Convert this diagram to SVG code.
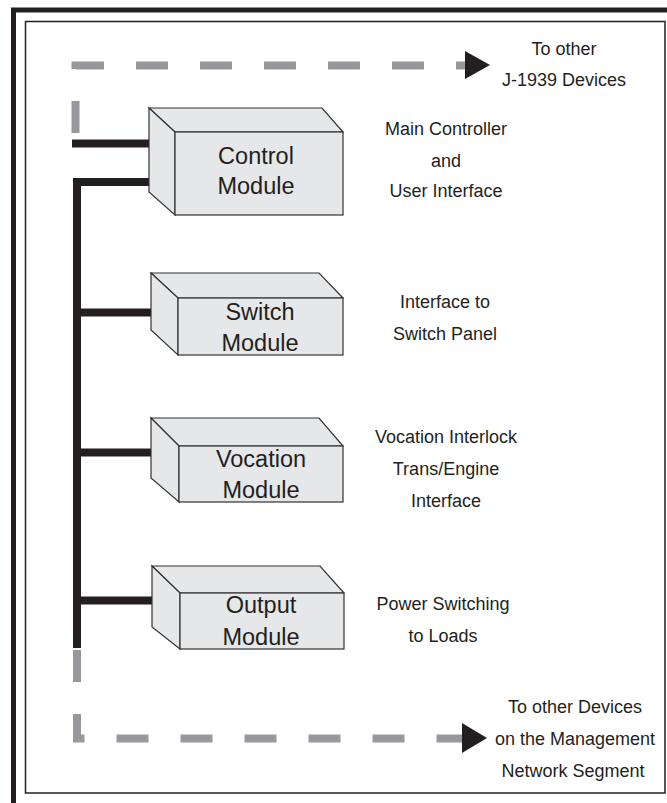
<svg xmlns="http://www.w3.org/2000/svg" width="667" height="803" viewBox="0 0 667 803">
  <style>
    .frame-outer { fill: none; stroke: #231f20; stroke-width: 5; }
    .frame-inner { fill: none; stroke: #231f20; stroke-width: 1.5; }
    .bus { fill: none; stroke: #231f20; stroke-width: 8; stroke-linejoin: miter; stroke-linecap: butt; }
    .net { fill: none; stroke: #97989b; stroke-width: 8; stroke-dasharray: 32 32; stroke-linejoin: miter; stroke-linecap: butt; }
    .arrow { fill: #231f20; }
    .face { fill: #e6e7e8; stroke: #333333; stroke-width: 1.2; stroke-linejoin: miter; }
    .box-label { font-family: "Liberation Sans", Arial, sans-serif; font-size: 23.5px; fill: #231f20; text-anchor: middle; }
    .note { font-family: "Liberation Sans", Arial, sans-serif; font-size: 18px; fill: #231f20; text-anchor: middle; }
  </style>

  <!-- page frame -->
  <rect class="frame-outer" x="13.5" y="10" width="700" height="850"/>
  <rect class="frame-inner" x="25.5" y="21.5" width="639.5" height="771.5"/>

  <!-- connectors -->
  <g id="connectors">
    <!-- J-1939 network (dashed) -->
    <path class="net" d="M75.5 133 V65.5 H466"/>
    <polygon class="arrow" points="465,51 490,65 465,79"/>
    <!-- management network (dashed) -->
    <path class="net" d="M77 650 V738.5 H463"/>
    <polygon class="arrow" points="462,723 487,738 462,753"/>
    <!-- control module J-1939 stub -->
    <path class="bus" d="M72 143.5 H150"/>
    <!-- management bus -->
    <path class="bus" d="M150 182 H77 V648"/>
    <path class="bus" d="M77 312.5 H152"/>
    <path class="bus" d="M77 452.5 H152"/>
    <path class="bus" d="M77 600.5 H153"/>
  </g>

  <!-- Control Module -->
  <g id="control-module">
    <polygon class="face" points="149,108 322,108 343,132 175,132"/>
    <polygon class="face" points="149,108 175,132 175,215 149,192"/>
    <rect class="face" x="175" y="132" width="168" height="83"/>
    <text class="box-label" x="256" y="164">Control</text>
    <text class="box-label" x="256" y="194">Module</text>
  </g>

  <!-- Switch Module -->
  <g id="switch-module">
    <polygon class="face" points="151,273 319,273 343,298 178,298"/>
    <polygon class="face" points="151,273 178,298 178,355 151,330"/>
    <rect class="face" x="178" y="298" width="165" height="57"/>
    <text class="box-label" x="260" y="320">Switch</text>
    <text class="box-label" x="260" y="351">Module</text>
  </g>

  <!-- Vocation Module -->
  <g id="vocation-module">
    <polygon class="face" points="151,418 319,418 343,446 179,446"/>
    <polygon class="face" points="151,418 179,446 179,502 151,478"/>
    <rect class="face" x="179" y="446" width="164" height="56"/>
    <text class="box-label" x="261" y="467">Vocation</text>
    <text class="box-label" x="261" y="498">Module</text>
  </g>

  <!-- Output Module -->
  <g id="output-module">
    <polygon class="face" points="152,566 320,566 344,593 180,593"/>
    <polygon class="face" points="152,566 180,593 180,649 152,627"/>
    <rect class="face" x="180" y="593" width="164" height="56"/>
    <text class="box-label" x="261" y="613">Output</text>
    <text class="box-label" x="261" y="645">Module</text>
  </g>

  <!-- descriptions -->
  <g id="j1939-label">
    <text class="note" x="564" y="55">To other</text>
    <text class="note" x="564" y="86">J-1939 Devices</text>
  </g>
  <g id="control-note">
    <text class="note" x="446" y="135">Main Controller</text>
    <text class="note" x="446" y="167">and</text>
    <text class="note" x="446" y="197">User Interface</text>
  </g>
  <g id="switch-note">
    <text class="note" x="445" y="308">Interface to</text>
    <text class="note" x="445" y="340">Switch Panel</text>
  </g>
  <g id="vocation-note">
    <text class="note" x="446" y="443">Vocation Interlock</text>
    <text class="note" x="446" y="475">Trans/Engine</text>
    <text class="note" x="446" y="507">Interface</text>
  </g>
  <g id="output-note">
    <text class="note" x="443" y="610">Power Switching</text>
    <text class="note" x="443" y="642">to Loads</text>
  </g>
  <g id="management-label">
    <text class="note" x="575" y="713">To other Devices</text>
    <text class="note" x="575" y="745">on the Management</text>
    <text class="note" x="573" y="777">Network Segment</text>
  </g>
</svg>
